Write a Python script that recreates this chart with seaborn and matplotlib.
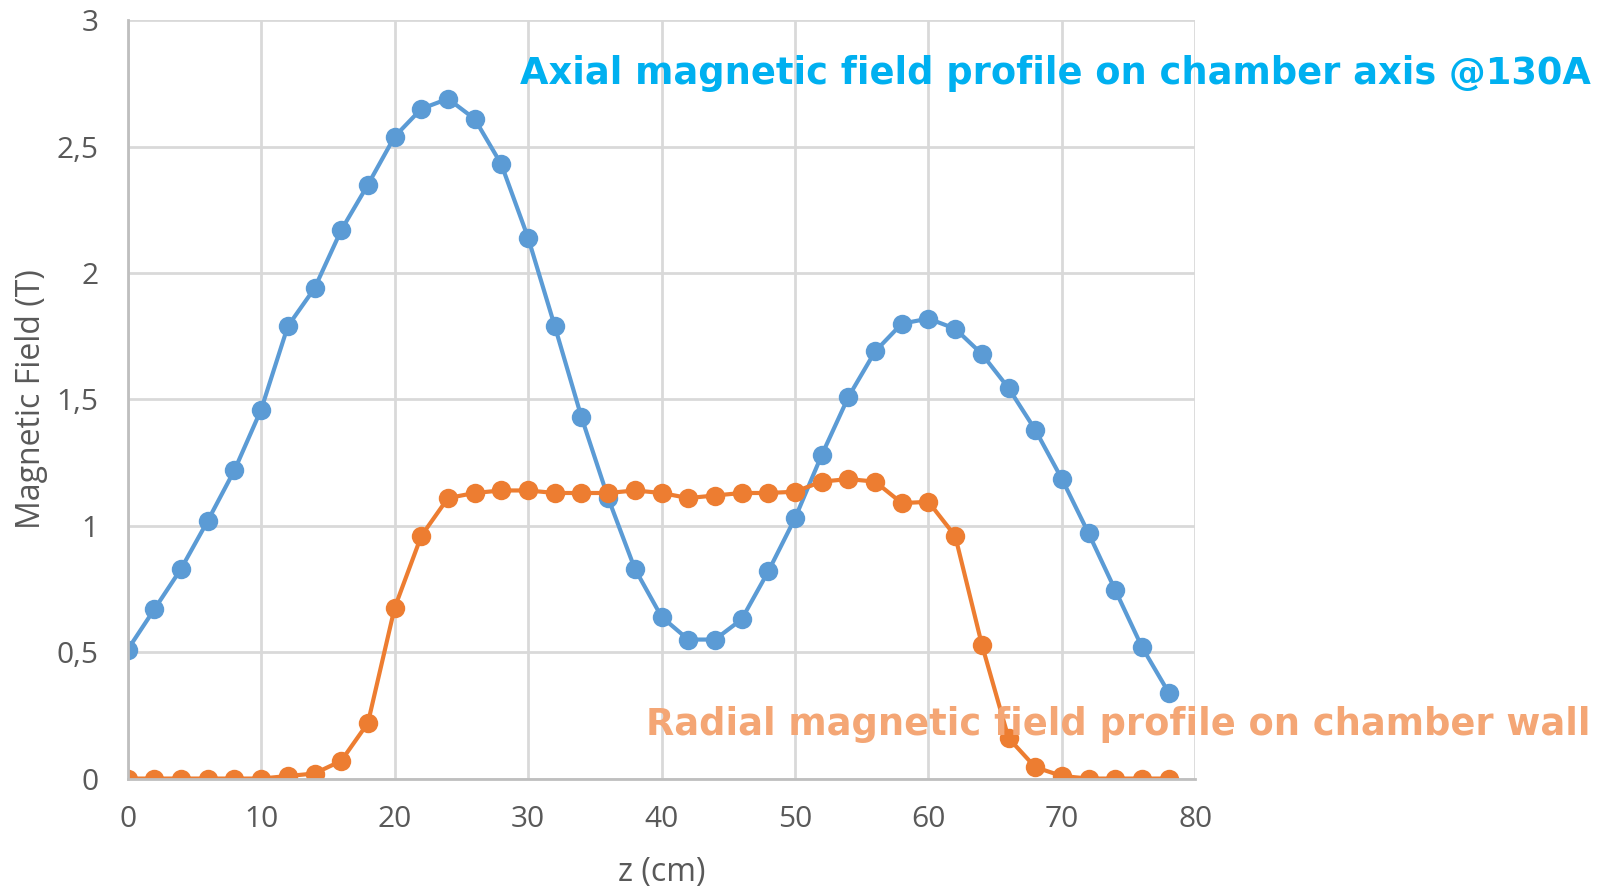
import matplotlib
matplotlib.use("Agg")
import matplotlib.pyplot as plt
import seaborn as sns
import pandas as pd

# Axial position along the chamber (cm)
z_cm = [0, 2, 4, 6, 8, 10, 12, 14, 16, 18, 20, 22, 24, 26, 28, 30, 32, 34, 36, 38,
        40, 42, 44, 46, 48, 50, 52, 54, 56, 58, 60, 62, 64, 66, 68, 70, 72, 74, 76, 78]

# Axial field on the chamber axis (T)
b_axial = [0.51, 0.67, 0.83, 1.02, 1.22, 1.46, 1.79, 1.94, 2.17, 2.35,
           2.54, 2.65, 2.69, 2.61, 2.43, 2.14, 1.79, 1.43, 1.11, 0.83,
           0.64, 0.55, 0.55, 0.63, 0.82, 1.03, 1.28, 1.51, 1.69, 1.80,
           1.82, 1.78, 1.68, 1.545, 1.38, 1.185, 0.97, 0.745, 0.52, 0.34]

# Radial field on the chamber wall (T)
b_radial = [0.0, 0.0, 0.0, 0.0, 0.0, 0.0, 0.01, 0.02, 0.07, 0.22,
            0.675, 0.96, 1.11, 1.13, 1.14, 1.14, 1.13, 1.13, 1.13, 1.14,
            1.13, 1.11, 1.12, 1.13, 1.13, 1.135, 1.175, 1.185, 1.175, 1.09,
            1.095, 0.96, 0.53, 0.16, 0.045, 0.01, 0.0, 0.0, 0.0, 0.0]

x_ticks = [0, 10, 20, 30, 40, 50, 60, 70, 80]
y_ticks = [0, 0.5, 1, 1.5, 2, 2.5, 3]
y_tick_labels = ["0", "0,5", "1", "1,5", "2", "2,5", "3"]

axial_label = "Axial magnetic field profile on chamber axis @130A"
radial_label = "Radial magnetic field profile on chamber wall"

sns.set_theme(style="white")
plt.rcParams["font.family"] = ["Open Sans", "DejaVu Sans"]

df = pd.DataFrame({"z": z_cm, "axial": b_axial, "radial": b_radial})

fig = plt.figure(figsize=(16.02, 8.91), dpi=100)
ax = fig.add_axes([0.0797, 0.1262, 0.6665, 0.8509])

grid_col = "#D9D9D9"
ax.set_axisbelow(True)
ax.grid(True, color=grid_col, linewidth=2)

line_kw = dict(marker="o", markersize=14, linewidth=3, markeredgewidth=0)
sns.lineplot(data=df, x="z", y="axial", ax=ax, color="#5B9BD5", **line_kw)
sns.lineplot(data=df, x="z", y="radial", ax=ax, color="#ED7D31", **line_kw)

ax.set_xlim(0, 80)
ax.set_ylim(0, 3)
ax.set_xticks(x_ticks)
ax.set_yticks(y_ticks)
ax.set_yticklabels(y_tick_labels)
ax.tick_params(axis="both", length=0, labelsize=21.5, labelcolor="#595959")
ax.tick_params(axis="x", pad=19)
ax.tick_params(axis="y", pad=21)

for side in ["top", "right"]:
    ax.spines[side].set_visible(False)
for side in ["left", "bottom"]:
    ax.spines[side].set_color("#BFBFBF")
    ax.spines[side].set_linewidth(2)

ax.set_xlabel("z (cm)", fontsize=23, color="#595959", labelpad=16)
ax.set_ylabel("Magnetic Field (T)", fontsize=23, color="#595959", labelpad=6)

fig.text(0.993, 0.917, axial_label, ha="right", va="center",
         fontsize=26.5, fontweight="bold", color="#00B0F0", family="DejaVu Sans")
fig.text(0.993, 0.187, radial_label, ha="right", va="center",
         fontsize=26.5, fontweight="bold", color="#F4A675", family="DejaVu Sans")

fig.savefig("out.png", dpi=100)
